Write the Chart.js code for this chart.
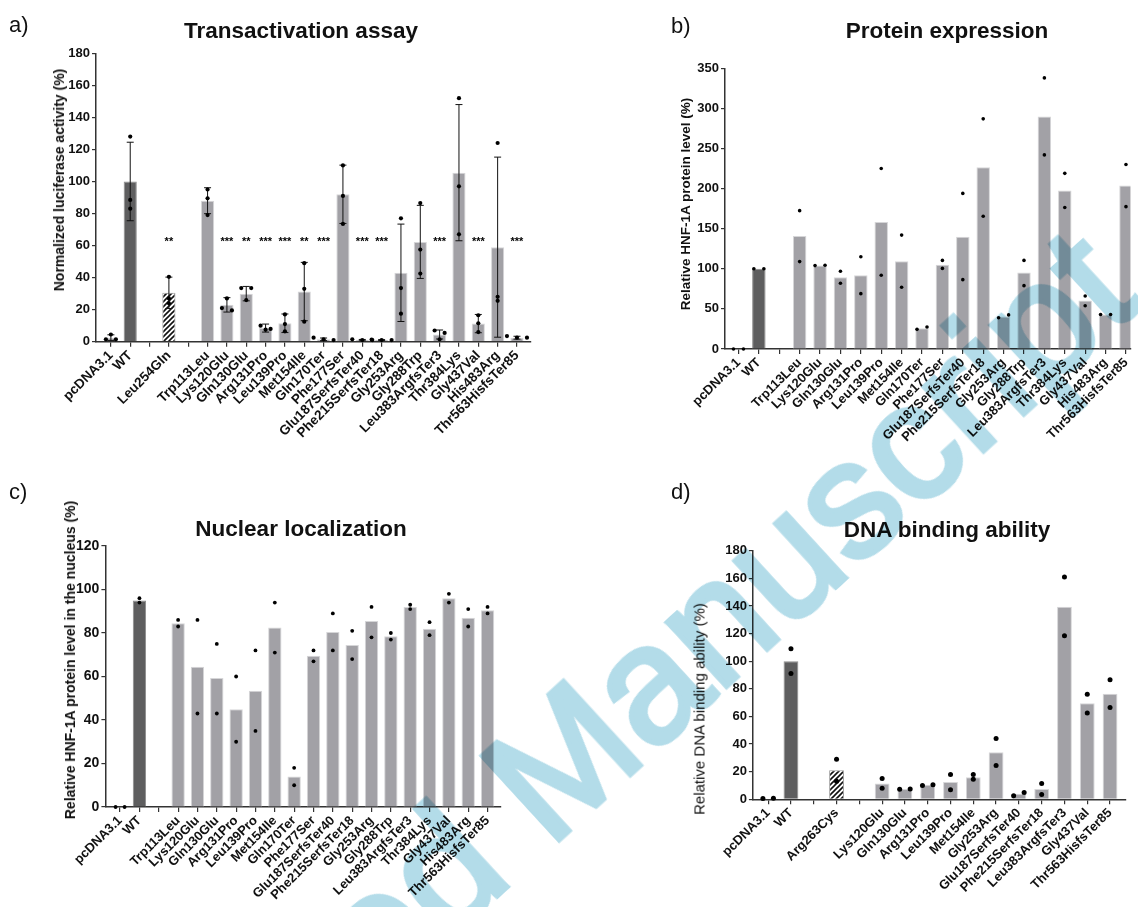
<!DOCTYPE html>
<html lang="en">
<head>
<meta charset="UTF-8">
<title>HNF-1A variants</title>
<script src="https://cdn.jsdelivr.net/npm/chart.js"></script>
<style>
  body { margin: 0; background: #fff; font-family: "Liberation Sans", Arial, sans-serif; }
  #page { position: relative; width: 1138px; height: 907px; overflow: hidden; background: #fff; }
  canvas { position: absolute; }
  .lbl { position: absolute; font-size: 22px; line-height: 1; color: #111; }
  .ttl { position: absolute; font-size: 22.5px; font-weight: bold; line-height: 1; white-space: nowrap; transform: translate(-50%, -50%); color: #111; }
  .ytl { position: absolute; font-weight: bold; line-height: 1; white-space: nowrap; transform: translate(-50%, -50%) rotate(-90deg); color: #111; }
  #wm { position: absolute; left: 550px; top: 850px; font-size: 165px; line-height: 1; white-space: nowrap;
        color: #b3dce9; -webkit-text-stroke: 5px #b3dce9; mix-blend-mode: multiply;
        transform-origin: 0 0; transform: rotate(-42.5deg) translate(0, -0.85em); pointer-events: none; }
  #wm span { position: absolute; right: 100%; top: 0; }
</style>
</head>
<body>
<div id="page">
  <canvas id="ca" width="560" height="460" style="left:0;top:0"></canvas>
  <canvas id="cb" width="538" height="460" style="left:600px;top:0"></canvas>
  <canvas id="cc" width="560" height="447" style="left:0;top:460px"></canvas>
  <canvas id="cd" width="538" height="447" style="left:600px;top:460px"></canvas>

  <div class="lbl" style="left:9px;top:14px">a)</div>
  <div class="lbl" style="left:671px;top:15px">b)</div>
  <div class="lbl" style="left:9px;top:481px">c)</div>
  <div class="lbl" style="left:671px;top:481px">d)</div>

  <div class="ttl" style="left:301px;top:31px">Transactivation assay</div>
  <div class="ttl" style="left:947px;top:31px">Protein expression</div>
  <div class="ttl" style="left:301px;top:529px">Nuclear localization</div>
  <div class="ttl" style="left:947px;top:530px">DNA binding ability</div>

  <div class="ytl" style="left:59px;top:180px;font-size:14px">Normalized luciferase activity (%)</div>
  <div class="ytl" style="left:686px;top:204px;font-size:13.5px">Relative HNF-1A protein level (%)</div>
  <div class="ytl" style="left:70px;top:660px;font-size:14px">Relative HNF-1A protein level in the nucleus (%)</div>
  <div class="ytl" style="left:699px;top:709px;font-size:15px;font-weight:normal">Relative DNA binding ability (%)</div>

  <div id="wm"><span>Accepted&nbsp;</span>Manuscript</div>
</div>

<script>
// a) transactivation assay (3 replicates, mean +/- SD)
const labelsA = ['pcDNA3.1', 'WT', '', 'Leu254Gln', '', 'Trp113Leu', 'Lys120Glu', 'Gln130Glu', 'Arg131Pro',
  'Leu139Pro', 'Met154Ile', 'Gln170Ter', 'Phe177Ser', 'Glu187SerfsTer40', 'Phe215SerfsTer18', 'Gly253Arg',
  'Gly288Trp', 'Leu383ArgfsTer3', 'Thr384Lys', 'Gly437Val', 'His483Arg', 'Thr563HisfsTer85'];
const meanA = [2.5, 100, null, 30.5, null, 88, 23, 30, 8.5, 11.5, 31.3, 1.5, 92, 1, 1, 43, 62.3, 4.5, 105.5, 11.3, 59, 2.5];
const sdA = [1.8, 24.5, null, 9.8, null, 8.1, 4.5, 4.5, 2.5, 5.8, 18.2, 0.8, 18.2, 0.4, 0.3, 30.4, 22.8, 2.8, 42.5, 5.7, 56.2, 0.9];
const repA1 = [4.5, 128, null, 40.5, null, 95, 27, 33.5, 10, 17, 49, 2.5, 110, 1.5, 1.3, 77, 86.5, 7, 152, 16.5, 124, 3.5];
const repA2 = [1.5, 88.5, null, 27, null, 89.5, 21, 33.5, 8, 11, 33, 1.5, 91, 1, 1, 33.5, 57.5, 5.5, 97, 11.5, 28, 2.5];
const repA3 = [1.5, 83, null, 24, null, 79, 19.5, 26, 7.5, 6.5, 12.5, 1, 73.5, 1, 1, 17.5, 42.5, 1.5, 67, 6, 25.5, 2.5];
const sigA = ['', '', '', '**', '', '', '***', '**', '***', '***', '**', '***', '', '***', '***', '', '', '***', '', '***', '', '***'];

// b) protein expression (2 replicates)
const labelsB = ['pcDNA3.1', 'WT', '', 'Trp113Leu', 'Lys120Glu', 'Gln130Glu', 'Arg131Pro', 'Leu139Pro', 'Met154Ile',
  'Gln170Ter', 'Phe177Ser', 'Glu187SerfsTer40', 'Phe215SerfsTer18', 'Gly253Arg', 'Gly288Trp', 'Leu383ArgfsTer3',
  'Thr384Lys', 'Gly437Val', 'His483Arg', 'Thr563HisfsTer85'];
const meanB = [0, 100, null, 141, 104, 89.5, 92, 158.5, 109.5, 26, 105, 140, 226.5, 40.5, 95.5, 290, 197.5, 60.5, 43, 204];
const repB1 = [0, 100, null, 172.5, 104, 97, 115, 225, 142, 24.5, 110.5, 194, 287, 39, 110.5, 338, 219, 66, 43, 230];
const repB2 = [0, 100, null, 109, 104.5, 82, 69, 92, 77, 27.5, 100.5, 86.5, 165.5, 42.5, 79, 242, 176.5, 54, 43, 177.5];

// c) nuclear localization (2 replicates)
const labelsC = labelsB;
const meanC = [0, 95, null, 84.5, 64.5, 59.3, 45, 53.5, 82.5, 14, 69.5, 80.5, 74.5, 85.5, 78.5, 92, 82, 96, 87, 90.5];
const repC1 = [0, 96, null, 86, 86, 75, 60, 72, 94, 18, 72, 89, 81, 92, 80, 93, 85, 98, 91, 92];
const repC2 = [0, 94, null, 83, 43, 43, 30, 35, 71, 10, 67, 72, 68, 78, 77, 91, 79, 94, 83, 89];

// d) DNA binding ability (2 replicates)
const labelsD = ['pcDNA3.1', 'WT', '', 'Arg263Cys', '', 'Lys120Glu', 'Gln130Glu', 'Arg131Pro', 'Leu139Pro', 'Met154Ile',
  'Gly253Arg', 'Glu187SerfsTer40', 'Phe215SerfsTer18', 'Leu383ArgfsTer3', 'Gly437Val', 'Thr563HisfsTer85'];
const meanD = [0, 100, null, 21, null, 11.5, 7.5, 10.5, 12.5, 16, 34, 4, 7.5, 139.5, 69.5, 76.5];
const repD1 = [0.5, 109, null, 29, null, 15, 7.3, 10, 18, 18, 44, 2.5, 11.5, 161, 76, 86.5];
const repD2 = [0.7, 91, null, 13, null, 8, 7.5, 10.5, 7, 14.5, 24.5, 5, 3.5, 118.5, 62.5, 66.5];

const hatched = ['Leu254Gln', 'Arg263Cys'];
const FONT = '"Liberation Sans", Arial, sans-serif';

function hatchPattern(ctx) {
  const c = document.createElement('canvas');
  c.width = 5; c.height = 5;
  const g = c.getContext('2d');
  g.fillStyle = '#fff'; g.fillRect(0, 0, 5, 5);
  g.strokeStyle = '#111'; g.lineWidth = 1.6;
  g.beginPath();
  g.moveTo(-1, 6); g.lineTo(6, -1);
  g.moveTo(-1, 1); g.lineTo(1, -1);
  g.moveTo(4, 6); g.lineTo(6, 4);
  g.stroke();
  return ctx.createPattern(c, 'repeat');
}

// error bars, replicate dots and significance stars, placed with the chart scales
const marks = {
  id: 'marks',
  afterDatasetsDraw(chart, args, o) {
    const { ctx, scales: { x, y } } = chart;
    ctx.save();
    if (o.sd) {
      ctx.strokeStyle = '#111'; ctx.lineWidth = 1;
      o.mean.forEach((m, i) => {
        if (m == null || o.sd[i] == null) return;
        const px = x.getPixelForValue(i);
        const top = y.getPixelForValue(m + o.sd[i]);
        const bot = y.getPixelForValue(Math.max(m - o.sd[i], 0));
        ctx.beginPath();
        ctx.moveTo(px, top); ctx.lineTo(px, bot);
        ctx.moveTo(px - 3.5, top); ctx.lineTo(px + 3.5, top);
        ctx.moveTo(px - 3.5, bot); ctx.lineTo(px + 3.5, bot);
        ctx.stroke();
      });
    }
    ctx.fillStyle = '#000';
    o.mean.forEach((m, i) => {
      const ys = o.reps.map(r => r[i]).filter(v => v != null).map(v => y.getPixelForValue(v));
      const used = ys.map(() => false);
      ys.forEach((py, j) => {
        if (used[j]) return;
        const grp = [j]; used[j] = true;
        ys.forEach((q, k) => { if (!used[k] && Math.abs(q - py) < 4) { grp.push(k); used[k] = true; } });
        grp.forEach((k, n) => {
          const dx = (n - (grp.length - 1) / 2) * o.step;
          ctx.beginPath();
          ctx.arc(x.getPixelForValue(i) + dx, ys[k], o.r, 0, Math.PI * 2);
          ctx.fill();
        });
      });
    });
    if (o.sig) {
      ctx.font = 'bold 11px ' + FONT;
      ctx.textAlign = 'center';
      ctx.textBaseline = 'alphabetic';
      o.sig.forEach((s, i) => {
        if (s) ctx.fillText(s, x.getPixelForValue(i), y.getPixelForValue(o.sigAt) + 6.5);
      });
    }
    ctx.restore();
  }
};

function makeChart(id, p) {
  const ctx = document.getElementById(id).getContext('2d');
  const pattern = hatchPattern(ctx);
  const pts = [], fills = [], edges = [];
  p.labels.forEach((lab, i) => {
    if (p.mean[i] == null) return;
    pts.push({ x: i, y: p.mean[i] });
    if (hatched.includes(lab)) { fills.push(pattern); edges.push('#9a9a9a'); }
    else if (lab === 'WT') { fills.push('#5e5e5f'); edges.push('#8c8c8c'); }
    else { fills.push('#a2a1a6'); edges.push('#d6d6d8'); }
  });
  return new Chart(ctx, {
    type: 'bar',
    data: {
      datasets: [{
        data: pts,
        backgroundColor: fills,
        borderColor: edges,
        borderWidth: 1,
        barPercentage: p.barPct,
        categoryPercentage: 1
      }]
    },
    plugins: [marks],
    options: {
      responsive: false,
      animation: false,
      layout: { padding: { left: 0, top: p.top, right: p.right, bottom: 0 } },
      plugins: {
        legend: { display: false },
        tooltip: { enabled: false },
        marks: { mean: p.mean, reps: p.reps, sd: p.sd, sig: p.sig, sigAt: 64.5, r: p.r, step: p.step }
      },
      scales: {
        x: {
          type: 'linear',
          min: p.xMin, max: p.xMax,
          offset: false,
          z: 1,
          afterBuildTicks: s => { s.ticks = p.labels.map((_, i) => ({ value: i })); },
          afterFit: s => { s.height = p.xH; },
          grid: { display: true, offset: false, drawOnChartArea: false, drawTicks: true, tickLength: 5, color: '#333', lineWidth: 1.2 },
          border: { display: true, color: '#333', width: 1.5 },
          ticks: {
            autoSkip: false, minRotation: 45, maxRotation: 45, padding: 1,
            color: '#111', font: { family: FONT, weight: 'bold', size: p.xTick },
            callback: v => p.labels[v]
          }
        },
        y: {
          min: 0, max: p.yMax,
          afterFit: s => { s.width = p.yW; },
          grid: { display: true, drawOnChartArea: false, drawTicks: true, tickLength: 4, color: '#333', lineWidth: 1.2 },
          border: { display: true, color: '#333', width: 1.5 },
          ticks: { stepSize: p.yStep, padding: 2, color: '#111', font: { family: FONT, weight: 'bold', size: p.tick } }
        }
      }
    }
  });
}

makeChart('ca', { labels: labelsA, mean: meanA, reps: [repA1, repA2, repA3], sd: sdA, sig: sigA,
  yMax: 180, yStep: 20, xMin: -0.77, xMax: 21.71, yW: 96, xH: 118.3, top: 53.3, right: 29.3,
  barPct: 0.68, r: 2.1, step: 10, tick: 13, xTick: 13.5 });
makeChart('cb', { labels: labelsB, mean: meanB, reps: [repB1, repB2],
  yMax: 350, yStep: 50, xMin: -0.66, xMax: 19.22, yW: 125, xH: 111, top: 68.3, right: 0,
  barPct: 0.66, r: 1.8, step: 10, tick: 13, xTick: 13 });
makeChart('cc', { labels: labelsC, mean: meanC, reps: [repC1, repC2],
  yMax: 120, yStep: 20, xMin: -0.76, xMax: 19.69, yW: 105.4, xH: 100, top: 86, right: 59.1,
  barPct: 0.69, r: 1.9, step: 9, tick: 14, xTick: 13 });
makeChart('cd', { labels: labelsD, mean: meanD, reps: [repD1, repD2],
  yMax: 180, yStep: 20, xMin: -0.67, xMax: 15.7, yW: 152.9, xH: 107.7, top: 90.7, right: 12,
  barPct: 0.65, r: 2.5, step: 10.5, tick: 13, xTick: 13 });
</script>
</body>
</html>
